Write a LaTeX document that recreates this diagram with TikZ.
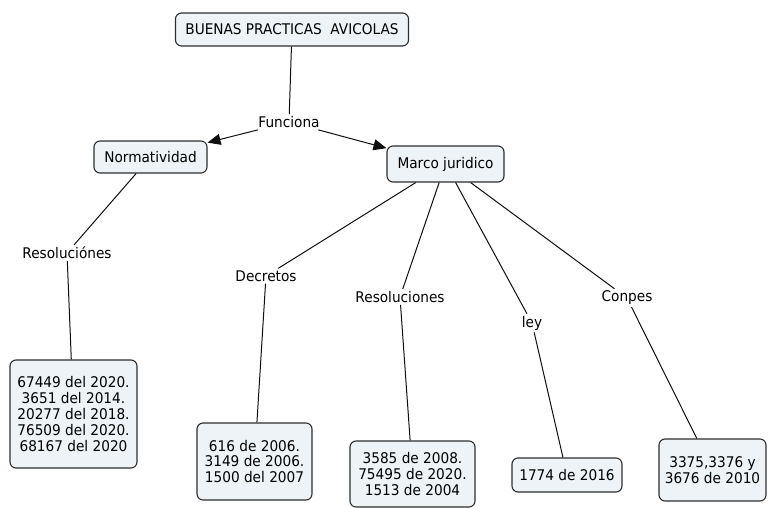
\documentclass[tikz,border=0pt]{standalone}
\usepackage{fontspec}
\setmainfont{DejaVu Sans}[FakeStretch=0.93]
\usetikzlibrary{arrows.meta}
\definecolor{boxfill}{RGB}{237,243,246}
\definecolor{boxline}{RGB}{45,45,45}
\definecolor{linkcol}{RGB}{15,15,15}
\tikzset{
  concept/.style={draw=boxline, line width=1.1pt, fill=boxfill, rounded corners=6pt,
    align=center, inner sep=0pt, font=\fontsize{14.7}{15.8}\selectfont},
  linklabel/.style={inner sep=2pt, font=\fontsize{14.7}{15.8}\selectfont},
  link/.style={draw=linkcol, line width=1pt},
  arrowlink/.style={link, -{Triangle[length=13pt,width=11pt]}}
}
\begin{document}
\begin{tikzpicture}[x=1pt,y=-1pt]
\useasboundingbox (0,0) rectangle (768,508);
% concepts
\node[concept, minimum width=233pt, minimum height=33pt] (top) at (292,29.5) {BUENAS PRACTICAS\ \ AVICOLAS};
\node[concept, minimum width=113pt, minimum height=32pt] (norm) at (150.5,157) {Normatividad};
\node[concept, minimum width=117pt, minimum height=36pt] (marco) at (445.5,164) {Marco juridico};
\node[concept, minimum width=127pt, minimum height=108pt] (resA) at (73.5,414) {67449 del 2020.\\3651 del 2014.\\20277 del 2018.\\76509 del 2020.\\68167 del 2020};
\node[concept, minimum width=115pt, minimum height=77pt] (dec) at (254.5,461.5) {616 de 2006.\\3149 de 2006.\\1500 del 2007};
\node[concept, minimum width=125pt, minimum height=66pt] (resB) at (412.5,474) {3585 de 2008.\\75495 de 2020.\\1513 de 2004};
\node[concept, minimum width=110pt, minimum height=34pt] (leyb) at (567,475) {1774 de 2016};
\node[concept, minimum width=107pt, minimum height=62pt] (conb) at (712.5,470) {3375,3376 y\\3676 de 2010};
% linking phrases
\node[linklabel] (fun) at (289,122) {Funciona};
\node[linklabel] (lres) at (67,253) {Resoluciónes};
\node[linklabel] (ldec) at (266,276) {Decretos};
\node[linklabel] (lresb) at (400,297) {Resoluciones};
\node[linklabel] (lley) at (532,323) {ley};
\node[linklabel] (lcon) at (627,298) {Conpes};
% connectors
\draw[link] (top) -- (fun);
\draw[arrowlink] (fun) -- (norm);
\draw[arrowlink] (fun) -- (marco);
\draw[link] (norm) -- (lres);
\draw[link] (lres) -- (resA);
\draw[link] (marco) -- (ldec);
\draw[link] (marco) -- (lresb);
\draw[link] (marco) -- (lley);
\draw[link] (marco) -- (lcon);
\draw[link] (ldec) -- (dec);
\draw[link] (lresb) -- (resB);
\draw[link] (lley) -- (leyb);
\draw[link] (lcon) -- (conb);
\end{tikzpicture}
\end{document}
